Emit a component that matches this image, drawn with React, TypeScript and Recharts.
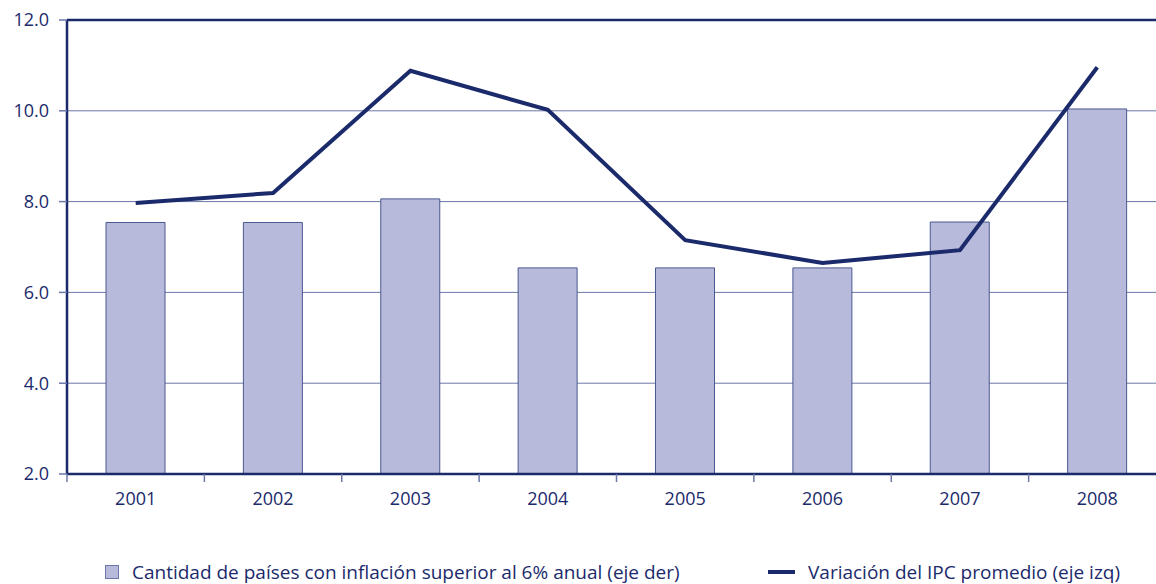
import React from "react";
import {
  ComposedChart,
  Bar,
  Line,
  XAxis,
  YAxis,
  CartesianGrid,
  ReferenceLine,
  Legend,
} from "recharts";

const years = ["2001", "2002", "2003", "2004", "2005", "2006", "2007", "2008"];
// Cantidad de países con inflación superior al 6% anual (eje der)
const paises = [7.54, 7.54, 8.06, 6.54, 6.54, 6.54, 7.55, 10.04];
// Variación del IPC promedio (eje izq)
const ipc = [7.97, 8.19, 10.88, 10.02, 7.15, 6.65, 6.93, 10.96];
const yTicks = [2, 4, 6, 8, 10, 12];

const data = years.map((year, i) => ({ year, paises: paises[i], ipc: ipc[i] }));

const NAVY = "#1b2a6b";
const GRID = "#6b78a8";
const FONT = "'Open Sans', sans-serif";
const X_MARGIN = 18;

const LegendBox = () => (
  <div
    style={{
      position: "relative",
      height: 26,
      fontFamily: FONT,
      fontSize: 19,
      color: NAVY,
      whiteSpace: "nowrap",
    }}
  >
    <span style={{ position: "absolute", left: 105, top: 0, display: "flex", alignItems: "center" }}>
      <span
        style={{
          display: "inline-block",
          width: 12,
          height: 12,
          background: "#b8badb",
          border: `1px solid ${GRID}`,
          marginRight: 13,
        }}
      />
      Cantidad de países con inflación superior al 6% anual (eje der)
    </span>
    <span style={{ position: "absolute", left: 768, top: 0, display: "flex", alignItems: "center" }}>
      <span
        style={{
          display: "inline-block",
          width: 27,
          height: 4,
          background: NAVY,
          marginRight: 13,
        }}
      />
      Variación del IPC promedio (eje izq)
    </span>
  </div>
);

// year label plus a tick mark at the left edge of each category band
const YearTick = (props: any) => {
  const { x, y, payload } = props;
  const half = payload.offset || 0;
  const axisY = y - X_MARGIN;
  return (
    <g>
      <line x1={x - half} x2={x - half} y1={axisY} y2={axisY + 8} stroke={GRID} strokeWidth={1.5} />
      <text x={x} y={y} dy="0.71em" textAnchor="middle" fill={NAVY} fontSize={18} fontFamily={FONT}>
        {payload.value}
      </text>
    </g>
  );
};

export default function App() {
  return (
    <div
      style={{
        position: "absolute",
        left: 0,
        top: 0,
        width: 1156,
        height: 584,
        overflow: "hidden",
        background: "#fff",
      }}
    >
      <ComposedChart
        width={1166}
        height={584}
        data={data}
        margin={{ top: 20, right: 0, left: 0, bottom: 54 }}
      >
        <CartesianGrid vertical={false} stroke={GRID} strokeWidth={1} yAxisId="left" />
        <XAxis
          dataKey="year"
          height={30}
          interval={0}
          axisLine={{ stroke: NAVY, strokeWidth: 2.5 }}
          tickLine={false}
          tickSize={0}
          tickMargin={X_MARGIN}
          tick={<YearTick />}
        />
        <YAxis
          yAxisId="left"
          domain={[2, 12]}
          ticks={yTicks}
          width={67}
          tickFormatter={(v: number) => v.toFixed(1)}
          tick={{ fill: NAVY, fontSize: 18, fontFamily: FONT }}
          tickSize={8}
          tickMargin={10}
          tickLine={{ stroke: GRID, strokeWidth: 1.5 }}
          axisLine={{ stroke: NAVY, strokeWidth: 2.5 }}
        />
        <YAxis yAxisId="right" orientation="right" domain={[2, 12]} hide />
        <ReferenceLine yAxisId="left" y={12} stroke={NAVY} strokeWidth={2.5} />
        <Bar
          yAxisId="right"
          dataKey="paises"
          barSize={59}
          fill="#b8badb"
          stroke="#4a5890"
          strokeWidth={1}
          isAnimationActive={false}
        />
        <Line
          yAxisId="left"
          dataKey="ipc"
          stroke={NAVY}
          strokeWidth={4}
          dot={false}
          activeDot={false}
          isAnimationActive={false}
        />
        <Legend verticalAlign="bottom" content={<LegendBox />} wrapperStyle={{ bottom: -1, left: 0, width: 1156 }} />
      </ComposedChart>
    </div>
  );
}
